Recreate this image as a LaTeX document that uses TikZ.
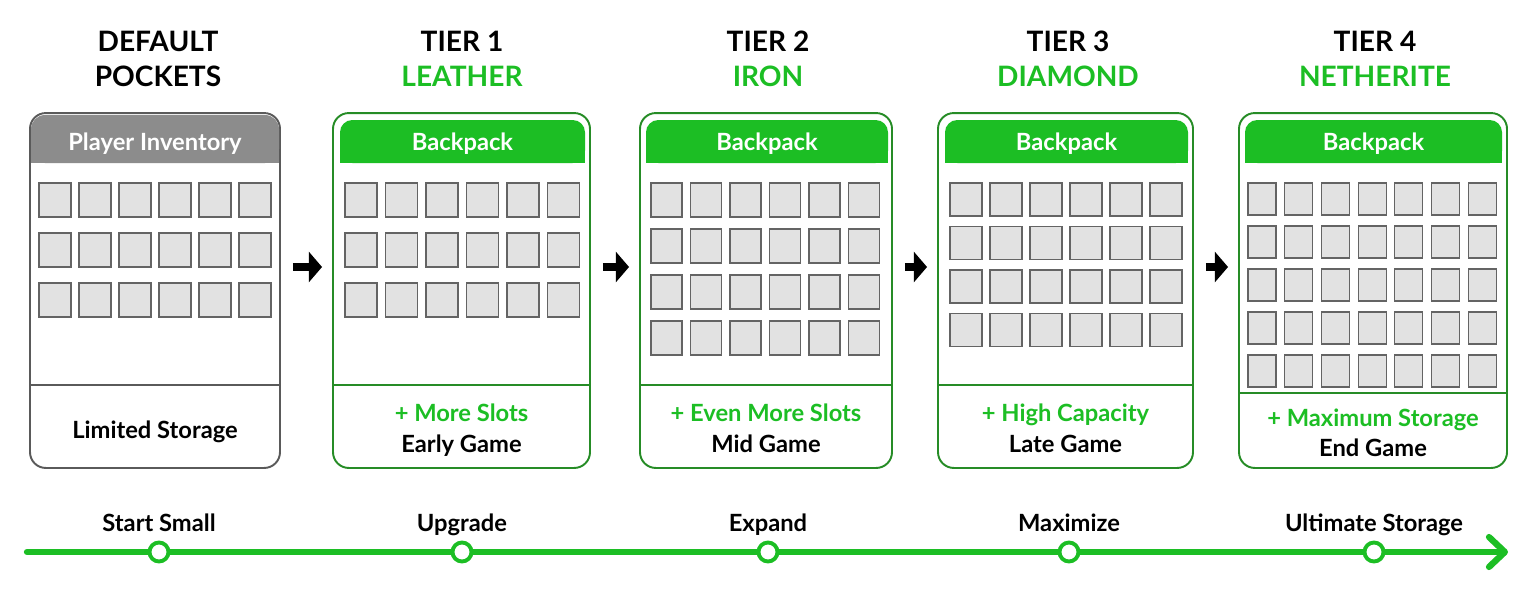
\documentclass[tikz,border=0pt]{standalone}
\usepackage{fontspec}
\setmainfont{Lato}
\usetikzlibrary{arrows.meta}

\definecolor{mcgreen}{RGB}{28,190,36}
\definecolor{mcdark}{RGB}{38,140,38}
\definecolor{hdrgray}{RGB}{140,140,140}
\definecolor{boxgray}{RGB}{90,90,90}
\definecolor{slotfill}{RGB}{226,226,226}
\definecolor{slotline}{RGB}{100,100,100}

\begin{document}
\begin{tikzpicture}[x=0.02cm,y=-0.02cm,
    title/.style={font=\fontsize{16}{19}\selectfont\bfseries,
      text height=0.72em,text depth=0em,yshift=-0.07cm},
    panel/.style={draw=#1,line width=1.1pt,fill=white,rounded corners=9pt,
      inner sep=0pt,minimum height=7.1cm},
    slot/.style={draw=slotline,fill=slotfill,line width=0.7pt},
    hdr/.style={text=white,font=\fontsize{13.5}{16}\selectfont\bfseries,
      text height=0.72em,text depth=0em,yshift=-0.07cm},
    note/.style={font=\fontsize{13.5}{16}\selectfont\bfseries,
      text height=0.72em,text depth=0em,yshift=-0.07cm},
    flow/.style={line width=4.2pt,-{Triangle[length=7.5pt,width=17pt]},
      shorten <=0.24cm,shorten >=0.2cm},
    timeline/.style={mcgreen,line width=3.6pt,line cap=round,
      -{Straight Barb[length=9pt,width=17pt,round]}},
    stop/.style={circle,draw=mcgreen,line width=2.2pt,fill=white,
      minimum size=0.38cm,inner sep=0pt}]
  \useasboundingbox (0,0) rectangle (1535,596);

  % titles
  \node[title] (h0a) at (158,42) {DEFAULT};
  \node[title] (h0b) at (158,77) {POCKETS};
  \foreach \n/\cx/\mat in {1/462/LEATHER,2/768/IRON,3/1068/DIAMOND,4/1375/NETHERITE} {
    \node[title] (h\n a) at (\cx,42) {TIER \n};
    \node[title,text=mcgreen] (h\n b) at (\cx,77) {\mat};
  }

  % panels
  \node[panel=boxgray,minimum width=250*0.02cm] (p0) at (155,290.5) {};
  \foreach \n/\cx/\w in {1/461.5/257,2/766/252,3/1065.5/255,4/1373/268}
    \node[panel=mcdark,minimum width=\w*0.02cm] (p\n) at (\cx,290.5) {};

  % headers
  \fill[hdrgray,rounded corners=8pt] (31,115) rectangle (279,163);
  \fill[hdrgray] (31,140) rectangle (279,163);
  \node[hdr] (b0) at (155,141) {Player Inventory};
  \foreach \n/\xa/\xb in {1/340/585,2/646/888,3/945/1188,4/1245/1502} {
    \fill[mcgreen,rounded corners=7pt] (\xa,120) rectangle (\xb,163);
    \fill[mcgreen] (\xa,140) rectangle (\xb,163);
    \node[hdr] (b\n) at ({(\xa+\xb)/2},141) {Backpack};
  }

  % dividers
  \draw[boxgray,line width=1.1pt] (p0.west |- 0,385) -- (p0.east |- 0,385);
  \foreach \n/\dy in {1/385,2/385,3/385,4/393}
    \draw[mcdark,line width=1.1pt] (p\n.west |- 0,\dy) -- (p\n.east |- 0,\dy);

  % slots: left/col pitch/width/top/row pitch/height/cols/rows
  \foreach \xo/\dx/\w/\yo/\dy/\h/\nc/\nr in {
      39/40/32/183/50/34/5/2,
      345/40.5/32/183/50/34/5/2,
      651/39.5/31/183/46/34/5/3,
      950/40/32/183/43.5/33/5/3,
      1248/36.7/28/183/43/32/6/4}
    \foreach \c in {0,...,\nc}
      \foreach \r in {0,...,\nr}
        \draw[slot] (\xo+\dx*\c,\yo+\dy*\r) rectangle ++(\w,\h);

  % captions
  \node[note] (c0) at (155,429) {Limited Storage};
  \foreach \n/\cx/\ya/\yb/\gain/\stage in {
      1/461.5/412/443/More Slots/Early Game,
      2/766/412/443/Even More Slots/Mid Game,
      3/1065.5/412/443/High Capacity/Late Game,
      4/1373/417/447/Maximum Storage/End Game} {
    \node[note,text=mcgreen] (g\n) at (\cx,\ya) {+ \gain};
    \node[note] (e\n) at (\cx,\yb) {\stage};
  }

  % arrows between panels
  \coordinate (mid) at (0,267);
  \foreach \a/\b in {0/1,1/2,2/3,3/4}
    \draw[flow] (p\a.east |- mid) -- (p\b.west |- mid);

  % timeline
  \coordinate (tl0) at (27,552);
  \coordinate (tl1) at (1508,552);
  \draw[timeline] (tl0) -- (tl1);
  \foreach \n/\cx/\txt in {0/159/Start Small,1/462/Upgrade,2/768/Expand,
      3/1069/Maximize,4/1374/Ultimate Storage} {
    \node[stop] (s\n) at (\cx,552) {};
    \node[note] (l\n) at (\cx,522) {\txt};
  }
\end{tikzpicture}
\end{document}
